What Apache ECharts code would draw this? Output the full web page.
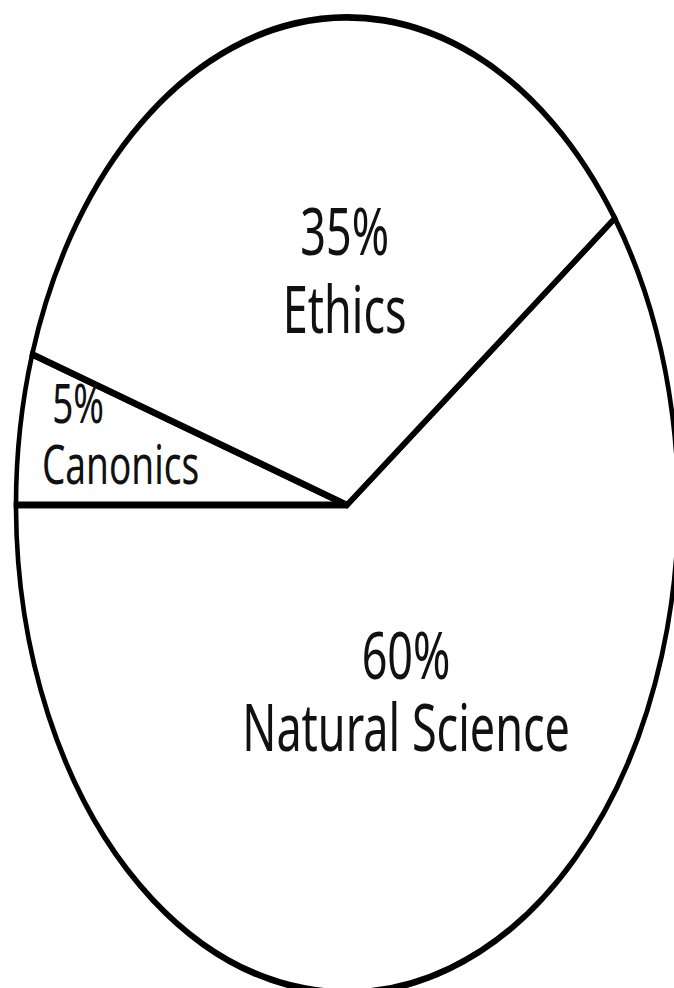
<!DOCTYPE html>
<html>
<head>
<meta charset="utf-8">
<script src="https://cdn.jsdelivr.net/npm/echarts@6/dist/echarts.min.js"></script>
<style>
  html, body { margin: 0; padding: 0; background: #ffffff; overflow: hidden; }
  #wrap { position: absolute; left: 0; top: 0; width: 674px; height: 988px; overflow: hidden; }
  #chart { position: absolute; left: 0; top: 0; width: 674px; height: 671px;
           transform: scaleY(1.473); transform-origin: 0 0; }
</style>
</head>
<body>
<div id="wrap"><div id="chart"></div></div>
<script>
// Data
var categories = ['Natural Science', 'Canonics', 'Ethics'];
var values = [60, 5, 35];

// Per-label styling (positions/sizes kept separate from data)
var labelStyles = [
  { offset: [7, -35], size: 45, lh: 49, padR: 0 },
  { offset: [-60, -23], size: 37, lh: 41, padR: 85 },
  { offset: [24, 6], size: 45, lh: 53, padR: 0 }
];

var chart = echarts.init(document.getElementById('chart'), null, { renderer: 'svg' });

var seriesData = categories.map(function (name, i) {
  var s = labelStyles[i];
  return {
    name: name,
    value: values[i],
    label: {
      offset: s.offset,
      rich: {
        p: { fontFamily: 'Noto Sans', fontSize: s.size, lineHeight: s.lh, color: '#111', padding: [0, s.padR, 0, 0] },
        n: { fontFamily: 'Noto Sans', fontSize: s.size, lineHeight: s.lh, color: '#111' }
      }
    }
  };
});

chart.setOption({
  backgroundColor: '#ffffff',
  animation: false,
  series: [{
    type: 'pie',
    center: [347, 342.8],
    radius: [0, 331],
    startAngle: 36,
    clockwise: true,
    silent: true,
    avoidLabelOverlap: false,
    itemStyle: { color: '#ffffff', borderColor: '#000000', borderWidth: 4.6, borderJoin: 'miter' },
    label: {
      show: true,
      position: 'inside',
      formatter: function (p) { return '{p|' + p.value + '%}\n{n|' + p.name + '}'; }
    },
    labelLine: { show: false },
    emphasis: { disabled: true },
    data: seriesData
  }]
});
</script>
</body>
</html>
